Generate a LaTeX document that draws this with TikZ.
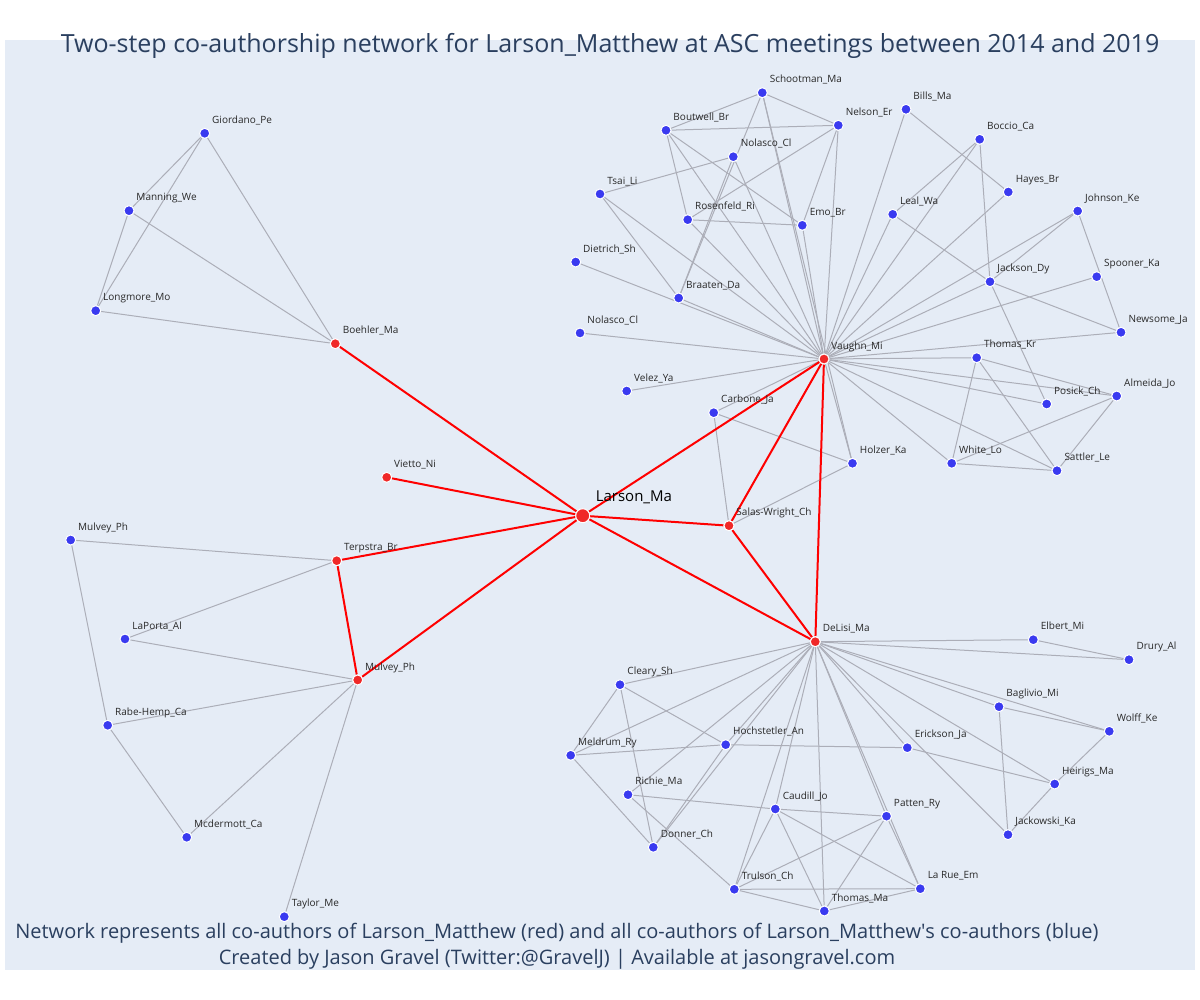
\documentclass[tikz,border=0pt]{standalone}
\usepackage{fontspec}
\setmainfont{Open Sans}
\usetikzlibrary{backgrounds}
\definecolor{plotbg}{RGB}{229,236,246}
\definecolor{titleblue}{RGB}{42,63,95}
\definecolor{coblue}{RGB}{58,58,240}
\definecolor{cored}{RGB}{240,40,40}
\definecolor{tiegrey}{RGB}{172,174,184}
\definecolor{namegrey}{RGB}{40,40,40}

\begin{document}
\begin{tikzpicture}[x=0.5pt, y=-0.5pt,
    author/.style={circle, fill=coblue, draw=white, line width=0.5pt, minimum size=5pt, inner sep=0pt},
    coauthor/.style={author, fill=cored},
    focal/.style={author, fill=cored, minimum size=7pt},
    authname/.style={font=\fontsize{5}{6}\selectfont, text=namegrey, inner sep=0pt, anchor=base west, xshift=1.6pt, yshift=3pt},
    bigname/.style={authname, font=\fontsize{7.5}{9}\selectfont, text=black, xshift=2.1pt, yshift=1.2pt},
    tie/.style={draw=tiegrey, line width=0.5pt},
    redtie/.style={draw=red, line width=1pt}]
  \useasboundingbox (0,0) rectangle (1200,1000);

  % ego and co-authors (red)
  \node[focal, label={[bigname]45:Larson\_Ma}] (Larson) at (582.7,515.7) {};
  \node[coauthor, label={[authname]45:Vietto\_Ni}] (Vietto) at (386.7,477.3) {};
  \node[coauthor, label={[authname]45:Boehler\_Ma}] (Boehler) at (335.3,343.7) {};
  \node[coauthor, label={[authname]45:Terpstra\_Br}] (Terpstra) at (336.7,560.7) {};
  \node[coauthor, label={[authname]45:Mulvey\_Ph}] (MulveyRed) at (357.7,680) {};
  \node[coauthor, label={[authname]45:Salas-Wright\_Ch}] (Salas) at (729,525.7) {};
  \node[coauthor, label={[authname]45:Vaughn\_Mi}] (Vaughn) at (824,359) {};
  \node[coauthor, label={[authname]45:DeLisi\_Ma}] (DeLisi) at (815.3,641.7) {};

  % left side
  \node[author, label={[authname]45:Giordano\_Pe}] (Giordano) at (204.7,133.3) {};
  \node[author, label={[authname]45:Manning\_We}] (Manning) at (129,210.7) {};
  \node[author, label={[authname]45:Longmore\_Mo}] (Longmore) at (95.7,310.7) {};
  \node[author, label={[authname]45:Mulvey\_Ph}] (MulveyBlue) at (70.7,540) {};
  \node[author, label={[authname]45:LaPorta\_Al}] (LaPorta) at (125,639) {};
  \node[author, label={[authname]45:Rabe-Hemp\_Ca}] (RabeHemp) at (107.7,725.3) {};
  \node[author, label={[authname]45:Mcdermott\_Ca}] (Mcdermott) at (186.7,837.3) {};
  \node[author, label={[authname]45:Taylor\_Me}] (Taylor) at (284.3,916.7) {};

  % around Vaughn
  \node[author, label={[authname]45:Schootman\_Ma}] (Schootman) at (762.3,92.7) {};
  \node[author, label={[authname]45:Boutwell\_Br}] (Boutwell) at (666,130.3) {};
  \node[author, label={[authname]45:Nelson\_Er}] (Nelson) at (838.3,125.3) {};
  \node[author, label={[authname]45:Bills\_Ma}] (Bills) at (906,109.3) {};
  \node[author, label={[authname]45:Nolasco\_Cl}] (NolascoTop) at (733.3,156.7) {};
  \node[author, label={[authname]45:Boccio\_Ca}] (Boccio) at (979.7,139.3) {};
  \node[author, label={[authname]45:Tsai\_Li}] (Tsai) at (600,194) {};
  \node[author, label={[authname]45:Hayes\_Br}] (Hayes) at (1008.3,192) {};
  \node[author, label={[authname]45:Rosenfeld\_Ri}] (Rosenfeld) at (687.7,219.7) {};
  \node[author, label={[authname]45:Emo\_Br}] (Emo) at (802.3,225.3) {};
  \node[author, label={[authname]45:Leal\_Wa}] (Leal) at (892.7,214.3) {};
  \node[author, label={[authname]45:Johnson\_Ke}] (Johnson) at (1077.7,211) {};
  \node[author, label={[authname]45:Dietrich\_Sh}] (Dietrich) at (575.7,262) {};
  \node[author, label={[authname]45:Jackson\_Dy}] (Jackson) at (990,281.7) {};
  \node[author, label={[authname]45:Spooner\_Ka}] (Spooner) at (1096.7,276.7) {};
  \node[author, label={[authname]45:Braaten\_Da}] (Braaten) at (678.7,298) {};
  \node[author, label={[authname]45:Nolasco\_Cl}] (NolascoMid) at (580,333) {};
  \node[author, label={[authname]45:Newsome\_Ja}] (Newsome) at (1121,332.3) {};
  \node[author, label={[authname]45:Thomas\_Kr}] (ThomasKr) at (976.7,357.7) {};
  \node[author, label={[authname]45:Velez\_Ya}] (Velez) at (626.7,391) {};
  \node[author, label={[authname]45:Carbone\_Ja}] (Carbone) at (713.7,412.7) {};
  \node[author, label={[authname]45:Almeida\_Jo}] (Almeida) at (1116.7,396) {};
  \node[author, label={[authname]45:Posick\_Ch}] (Posick) at (1046.7,404) {};
  \node[author, label={[authname]45:Holzer\_Ka}] (Holzer) at (852.5,463.3) {};
  \node[author, label={[authname]45:White\_Lo}] (WhiteLo) at (951.7,463.3) {};
  \node[author, label={[authname]45:Sattler\_Le}] (Sattler) at (1057,470.7) {};

  % around DeLisi
  \node[author, label={[authname]45:Elbert\_Mi}] (Elbert) at (1033.3,639.7) {};
  \node[author, label={[authname]45:Drury\_Al}] (Drury) at (1129,659.7) {};
  \node[author, label={[authname]45:Cleary\_Sh}] (Cleary) at (620,684.7) {};
  \node[author, label={[authname]45:Baglivio\_Mi}] (Baglivio) at (999,706.7) {};
  \node[author, label={[authname]45:Wolff\_Ke}] (Wolff) at (1109.3,731.3) {};
  \node[author, label={[authname]45:Hochstetler\_An}] (Hochstetler) at (725.7,744.7) {};
  \node[author, label={[authname]45:Erickson\_Ja}] (Erickson) at (907.3,747.7) {};
  \node[author, label={[authname]45:Meldrum\_Ry}] (Meldrum) at (570.7,755.3) {};
  \node[author, label={[authname]45:Heirigs\_Ma}] (Heirigs) at (1054.7,784) {};
  \node[author, label={[authname]45:Richie\_Ma}] (Richie) at (628,794.7) {};
  \node[author, label={[authname]45:Caudill\_Jo}] (Caudill) at (775.3,809) {};
  \node[author, label={[authname]45:Patten\_Ry}] (Patten) at (886.5,816.2) {};
  \node[author, label={[authname]45:Jackowski\_Ka}] (Jackowski) at (1008,834.7) {};
  \node[author, label={[authname]45:Donner\_Ch}] (Donner) at (653.3,847.3) {};
  \node[author, label={[authname]45:Trulson\_Ch}] (Trulson) at (734.3,889.3) {};
  \node[author, label={[authname]45:La Rue\_Em}] (LaRue) at (920.3,888.7) {};
  \node[author, label={[authname]45:Thomas\_Ma}] (ThomasMa) at (824.3,911) {};

  % title and notes
  \node[text=titleblue, font=\fontsize{12.5}{15}\selectfont] (Title) at (610,46)
    {Two-step co-authorship network for Larson\_Matthew at ASC meetings between 2014 and 2019};
  \node[text=titleblue, font=\fontsize{10}{13}\selectfont, align=center] (Notes) at (557,946)
    {Network represents all co-authors of Larson\_Matthew (red) and all co-authors of Larson\_Matthew\textquotesingle s co-authors (blue)\\
     Created by Jason Gravel (Twitter:@GravelJ) | Available at jasongravel.com};

  \begin{scope}[on background layer]
    \fill[white] (0,0) rectangle (1200,1000);
    \fill[plotbg] (5,40) rectangle (1195,970);
    % ties among co-authors of co-authors
    \foreach \a/\b in {Giordano/Manning, Giordano/Longmore, Giordano/Boehler, Manning/Longmore,
        Manning/Boehler, Longmore/Boehler, MulveyBlue/Terpstra, MulveyBlue/RabeHemp,
        Terpstra/LaPorta, LaPorta/MulveyRed, RabeHemp/MulveyRed, RabeHemp/Mcdermott,
        Mcdermott/MulveyRed, Taylor/MulveyRed}
      \draw[tie] (\a) -- (\b);
    \foreach \x in {Schootman, Boutwell, NolascoTop, Tsai, Rosenfeld, Emo, Nelson, Dietrich,
        Braaten, NolascoMid, Velez, Bills, Boccio, Hayes, Leal, Johnson, Jackson, Spooner,
        Newsome, ThomasKr, Almeida, Posick, Sattler, WhiteLo, Holzer, Carbone}
      \draw[tie] (Vaughn) -- (\x);
    \foreach \a/\b in {Schootman/Boutwell, Schootman/Nelson, Schootman/Braaten, Schootman/Holzer,
        Boutwell/Nelson, Boutwell/Rosenfeld, Boutwell/Emo, NolascoTop/Tsai, NolascoTop/Braaten,
        Tsai/Braaten, Rosenfeld/Emo, Rosenfeld/Nelson, Nelson/Emo, Bills/Hayes, Boccio/Leal,
        Boccio/Jackson, Leal/Jackson, Johnson/Jackson, Johnson/Newsome, Jackson/Newsome,
        Jackson/Posick, ThomasKr/Almeida, ThomasKr/WhiteLo, ThomasKr/Sattler, Almeida/WhiteLo,
        Almeida/Sattler, WhiteLo/Sattler, Carbone/Holzer, Carbone/Salas, Holzer/Salas}
      \draw[tie] (\a) -- (\b);
    \foreach \x in {Cleary, Meldrum, Hochstetler, Richie, Donner, Trulson, Caudill, ThomasMa,
        Patten, LaRue, Elbert, Drury, Baglivio, Wolff, Erickson, Heirigs, Jackowski}
      \draw[tie] (DeLisi) -- (\x);
    \foreach \a/\b in {Cleary/Meldrum, Cleary/Hochstetler, Cleary/Donner, Meldrum/Hochstetler,
        Meldrum/Donner, Hochstetler/Donner, Hochstetler/Erickson, Richie/Caudill, Richie/Trulson,
        Caudill/Patten, Caudill/Trulson, Caudill/ThomasMa, Caudill/LaRue, Trulson/Patten,
        Trulson/ThomasMa, Trulson/LaRue, ThomasMa/Patten, ThomasMa/LaRue, Patten/LaRue,
        Elbert/Drury, Baglivio/Wolff, Baglivio/Jackowski, Erickson/Heirigs, Wolff/Heirigs,
        Heirigs/Jackowski}
      \draw[tie] (\a) -- (\b);
    % ties of Larson_Ma and among his co-authors
    \foreach \x in {Boehler, Vietto, Terpstra, MulveyRed, Vaughn, Salas, DeLisi}
      \draw[redtie] (Larson) -- (\x);
    \draw[redtie] (Terpstra) -- (MulveyRed);
    \draw[redtie] (Salas) -- (Vaughn);
    \draw[redtie] (Salas) -- (DeLisi);
    \draw[redtie] (Vaughn) -- (DeLisi);
  \end{scope}
\end{tikzpicture}
\end{document}
